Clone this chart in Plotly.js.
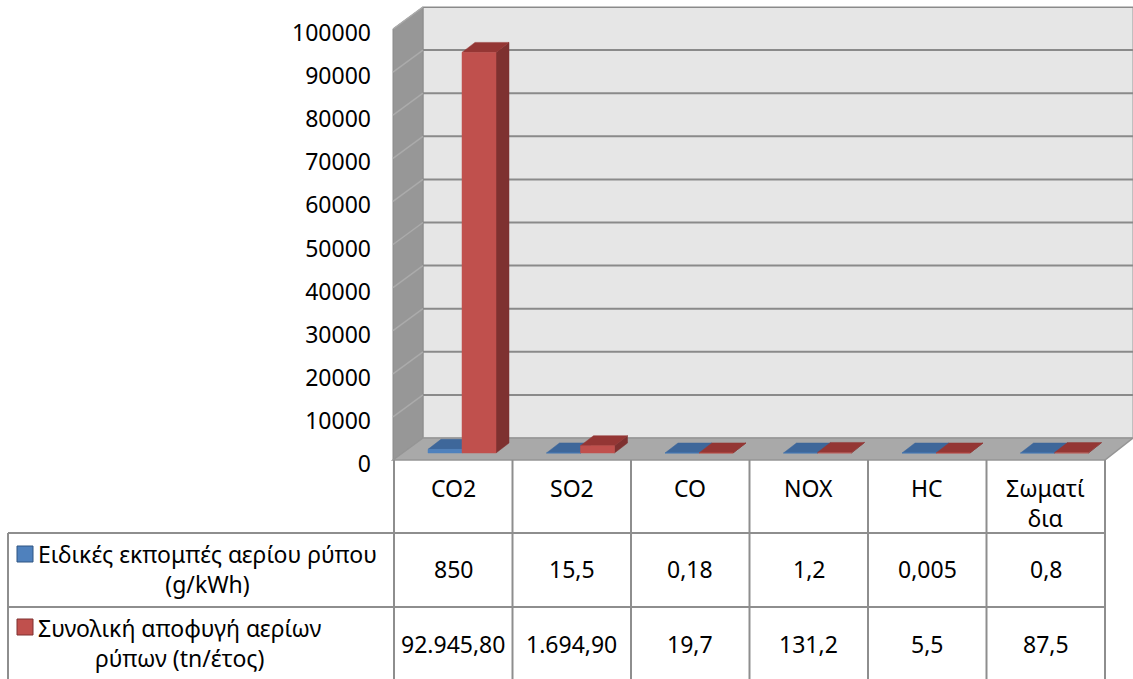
<!DOCTYPE html>
<html>
<head>
<meta charset="utf-8">
<script src="https://cdn.plot.ly/plotly-3.0.1.min.js"></script>
<style>
  html, body { margin: 0; padding: 0; background: #ffffff; }
  #chart { width: 1133px; height: 679px; }
</style>
</head>
<body>
<div id="chart"></div>
<script>
// Pollutants (table header / category axis)
const categories = ['CO2', 'SO2', 'CO', 'NOX', 'HC', 'Σωματί<br>δια'];

// Series 1: specific emissions per pollutant (g/kWh)
const specificEmissions = [850, 15.5, 0.18, 1.2, 0.005, 0.8];
const specificDecimals = [0, 1, 2, 1, 3, 1];

// Series 2: total avoided emissions per year (tn/έτος)
const totalAvoided = [92945.80, 1694.90, 19.7, 131.2, 5.5, 87.5];
const totalDecimals = [2, 2, 1, 1, 1, 1];

const seriesNames = [
  'Ειδικές εκπομπές αερίου ρύπου<br>(g/kWh)',
  'Συνολική αποφυγή αερίων<br>ρύπων (tn/έτος)'
];

// Value axis ticks
const yTickStep = 10000;
const yTickMax = 100000;

// ---- geometry of the 3D box (pixels of the 1133x679 figure) ----
const W = 1133, H = 679;
const COL0 = 394, CW = 118.5;          // first table column edge, column width
const PX_L = 393, PX_R = 1133;          // plot area left/right
const PY_T = 7, PY_B = 460;             // plot area top/bottom (front floor edge)
const PX_PER_UNIT = 43.1 / 10000;       // value -> pixels
const DEPTH_X = 30, DEPTH_Y = 22;       // wall depth offset
const BAR_W = 34, BAR_DX = 13, BAR_DY = 10, BAR_Z = 7;  // column size & depth
const BAR_OFF = [-25.25, 8.75];         // column left edge relative to category centre

const X0 = (PX_L - COL0) / CW - 0.5;
const X1 = (PX_R - COL0) / CW - 0.5;
const YMAX = (PY_B - PY_T) / PX_PER_UNIT;
const dxData = px => px / CW;
const dyData = px => px / PX_PER_UNIT;
const px = x => x / W;
const py = y => 1 - y / H;

const FONT = 'Noto Sans, Open Sans, sans-serif';

function fmt(v, d) {
  const parts = v.toFixed(d).split('.');
  const intPart = parts[0].replace(/\B(?=(\d{3})+(?!\d))/g, '.');
  return parts[1] ? intPart + ',' + parts[1] : intPart;
}

// Build the three visible faces of each 3D column from the values
function columnFaces(values, offPx) {
  const front = {x: [], y: []}, top = {x: [], y: []}, side = {x: [], y: []};
  const ddx = dxData(BAR_DX), ddy = dyData(BAR_DY);
  const b = dyData(BAR_Z);
  values.forEach((v, i) => {
    const xl = i + dxData(offPx);
    const xr = xl + dxData(BAR_W);
    const t = b + v;
    front.x.push(xl, xr, xr, xl, xl, null);
    front.y.push(b, b, t, t, b, null);
    top.x.push(xl, xr, xr + ddx, xl + ddx, xl, null);
    top.y.push(t, t, t + ddy, t + ddy, t, null);
    side.x.push(xr, xr + ddx, xr + ddx, xr, xr, null);
    side.y.push(b, b + ddy, t + ddy, t, b, null);
  });
  return {front, top, side};
}

function faceTrace(face, fill, name) {
  return {
    type: 'scatter', mode: 'lines', x: face.x, y: face.y,
    fill: 'toself', fillcolor: fill,
    line: {color: fill, width: 0.5},
    hoverinfo: 'skip', showlegend: false, name: name
  };
}

const palettes = [
  {front: '#4F81BD', top: '#3E679A', side: '#2F5482'},
  {front: '#C0504D', top: '#943634', side: '#7E3130'}
];
const seriesValues = [specificEmissions, totalAvoided];

const traces = [];
seriesValues.forEach((vals, s) => {
  const f = columnFaces(vals, BAR_OFF[s]);
  traces.push(faceTrace(f.side, palettes[s].side, seriesNames[s]));
  traces.push(faceTrace(f.top, palettes[s].top, seriesNames[s]));
  traces.push(faceTrace(f.front, palettes[s].front, seriesNames[s]));
});

// ---- walls, floor, gridlines ----
const shapes = [];
const poly = pts => 'M' + pts.map(p => px(p[0]) + ',' + py(p[1])).join('L') + 'Z';

// back wall
shapes.push({type: 'path', xref: 'paper', yref: 'paper', layer: 'below',
  path: poly([[PX_L + DEPTH_X, PY_T], [PX_R, PY_T], [PX_R, PY_B - DEPTH_Y], [PX_L + DEPTH_X, PY_B - DEPTH_Y]]),
  fillcolor: '#E6E6E6', line: {color: '#B4B4B4', width: 1.5}});
// side wall
shapes.push({type: 'path', xref: 'paper', yref: 'paper', layer: 'below',
  path: poly([[PX_L, PY_T + DEPTH_Y], [PX_L + DEPTH_X, PY_T], [PX_L + DEPTH_X, PY_B - DEPTH_Y], [PX_L, PY_B]]),
  fillcolor: '#979797', line: {color: '#8A8A8A', width: 1}});
// floor
shapes.push({type: 'path', xref: 'paper', yref: 'paper', layer: 'below',
  path: poly([[PX_L, PY_B], [PX_L + DEPTH_X, PY_B - DEPTH_Y], [PX_R, PY_B - DEPTH_Y], [COL0 + 6 * CW, PY_B]]),
  fillcolor: '#A9A9A9', line: {color: '#959595', width: 1.5}});

// gridlines on the back wall and the side wall
for (let v = yTickStep; v <= yTickMax; v += yTickStep) {
  shapes.push({type: 'line', xref: 'paper', yref: 'y', layer: 'below',
    x0: px(PX_L + DEPTH_X), x1: px(PX_R), y0: v + dyData(DEPTH_Y), y1: v + dyData(DEPTH_Y),
    line: {color: '#8A8A8A', width: 2}});
  shapes.push({type: 'line', xref: 'paper', yref: 'y', layer: 'below',
    x0: px(PX_L), x1: px(PX_L + DEPTH_X), y0: v, y1: v + dyData(DEPTH_Y),
    line: {color: '#ABABAB', width: 1.5}});
}

// ---- data table below the plot ----
const ROW_TOP = [PY_B, 533, 607, H];
const LEFT_EDGE = 8;
const gridColor = '#8E8E8E';
const hline = (x0, x1, y) => ({type: 'line', xref: 'paper', yref: 'paper',
  x0: px(x0), x1: px(x1), y0: py(y), y1: py(y), line: {color: gridColor, width: 2}});
const vline = (x, y0, y1) => ({type: 'line', xref: 'paper', yref: 'paper',
  x0: px(x), x1: px(x), y0: py(y0), y1: py(y1), line: {color: gridColor, width: 2}});

shapes.push(hline(LEFT_EDGE, COL0 + 6 * CW, ROW_TOP[1]));
shapes.push(hline(LEFT_EDGE, COL0 + 6 * CW, ROW_TOP[2]));
shapes.push(vline(LEFT_EDGE, ROW_TOP[1], H));
for (let c = 0; c <= categories.length; c++) shapes.push(vline(COL0 + c * CW, PY_B, H));

// legend keys inside the table
const keyY = [546, 619];
palettes.forEach((p, s) => {
  shapes.push({type: 'rect', xref: 'paper', yref: 'paper',
    x0: px(17), x1: px(33), y0: py(keyY[s]), y1: py(keyY[s] + 16),
    fillcolor: p.front, line: {color: p.side, width: 1}});
});

const annotations = [];
const txt = (o) => Object.assign({showarrow: false, font: {family: FONT, size: 23, color: '#000000'}}, o);

categories.forEach((c, i) => {
  annotations.push(txt({xref: 'x', yref: 'paper', x: i, y: py(470), xanchor: 'center', yanchor: 'top', text: c}));
  annotations.push(txt({xref: 'x', yref: 'paper', x: i, y: py(569), xanchor: 'center', yanchor: 'middle',
    text: fmt(specificEmissions[i], specificDecimals[i])}));
  annotations.push(txt({xref: 'x', yref: 'paper', x: i, y: py(644), xanchor: 'center', yanchor: 'middle',
    text: fmt(totalAvoided[i], totalDecimals[i])}));
});

const legendY = [569, 643];
seriesNames.forEach((n, s) => {
  annotations.push(txt({xref: 'paper', yref: 'paper', x: px(36), y: py(legendY[s]),
    xanchor: 'left', yanchor: 'middle', align: 'center', text: n}));
});

const layout = {
  width: W, height: H,
  margin: {l: 0, r: 0, t: 0, b: 0, pad: 0},
  paper_bgcolor: '#ffffff', plot_bgcolor: 'rgba(0,0,0,0)',
  showlegend: false,
  font: {family: FONT, color: '#000000'},
  xaxis: {domain: [px(PX_L), px(PX_R)], range: [X0, X1], visible: false, fixedrange: true},
  yaxis: {domain: [py(PY_B), py(PY_T)], range: [0, YMAX], tick0: 0, dtick: yTickStep,
    tickformat: 'd', showgrid: false, zeroline: false, showline: false, ticks: '',
    ticklabelstandoff: 21, ticklabelshift: 4,
    tickfont: {family: FONT, size: 23, color: '#000000'}, fixedrange: true},
  shapes: shapes,
  annotations: annotations
};

Plotly.newPlot('chart', traces, layout, {displayModeBar: false, staticPlot: true});
</script>
</body>
</html>
